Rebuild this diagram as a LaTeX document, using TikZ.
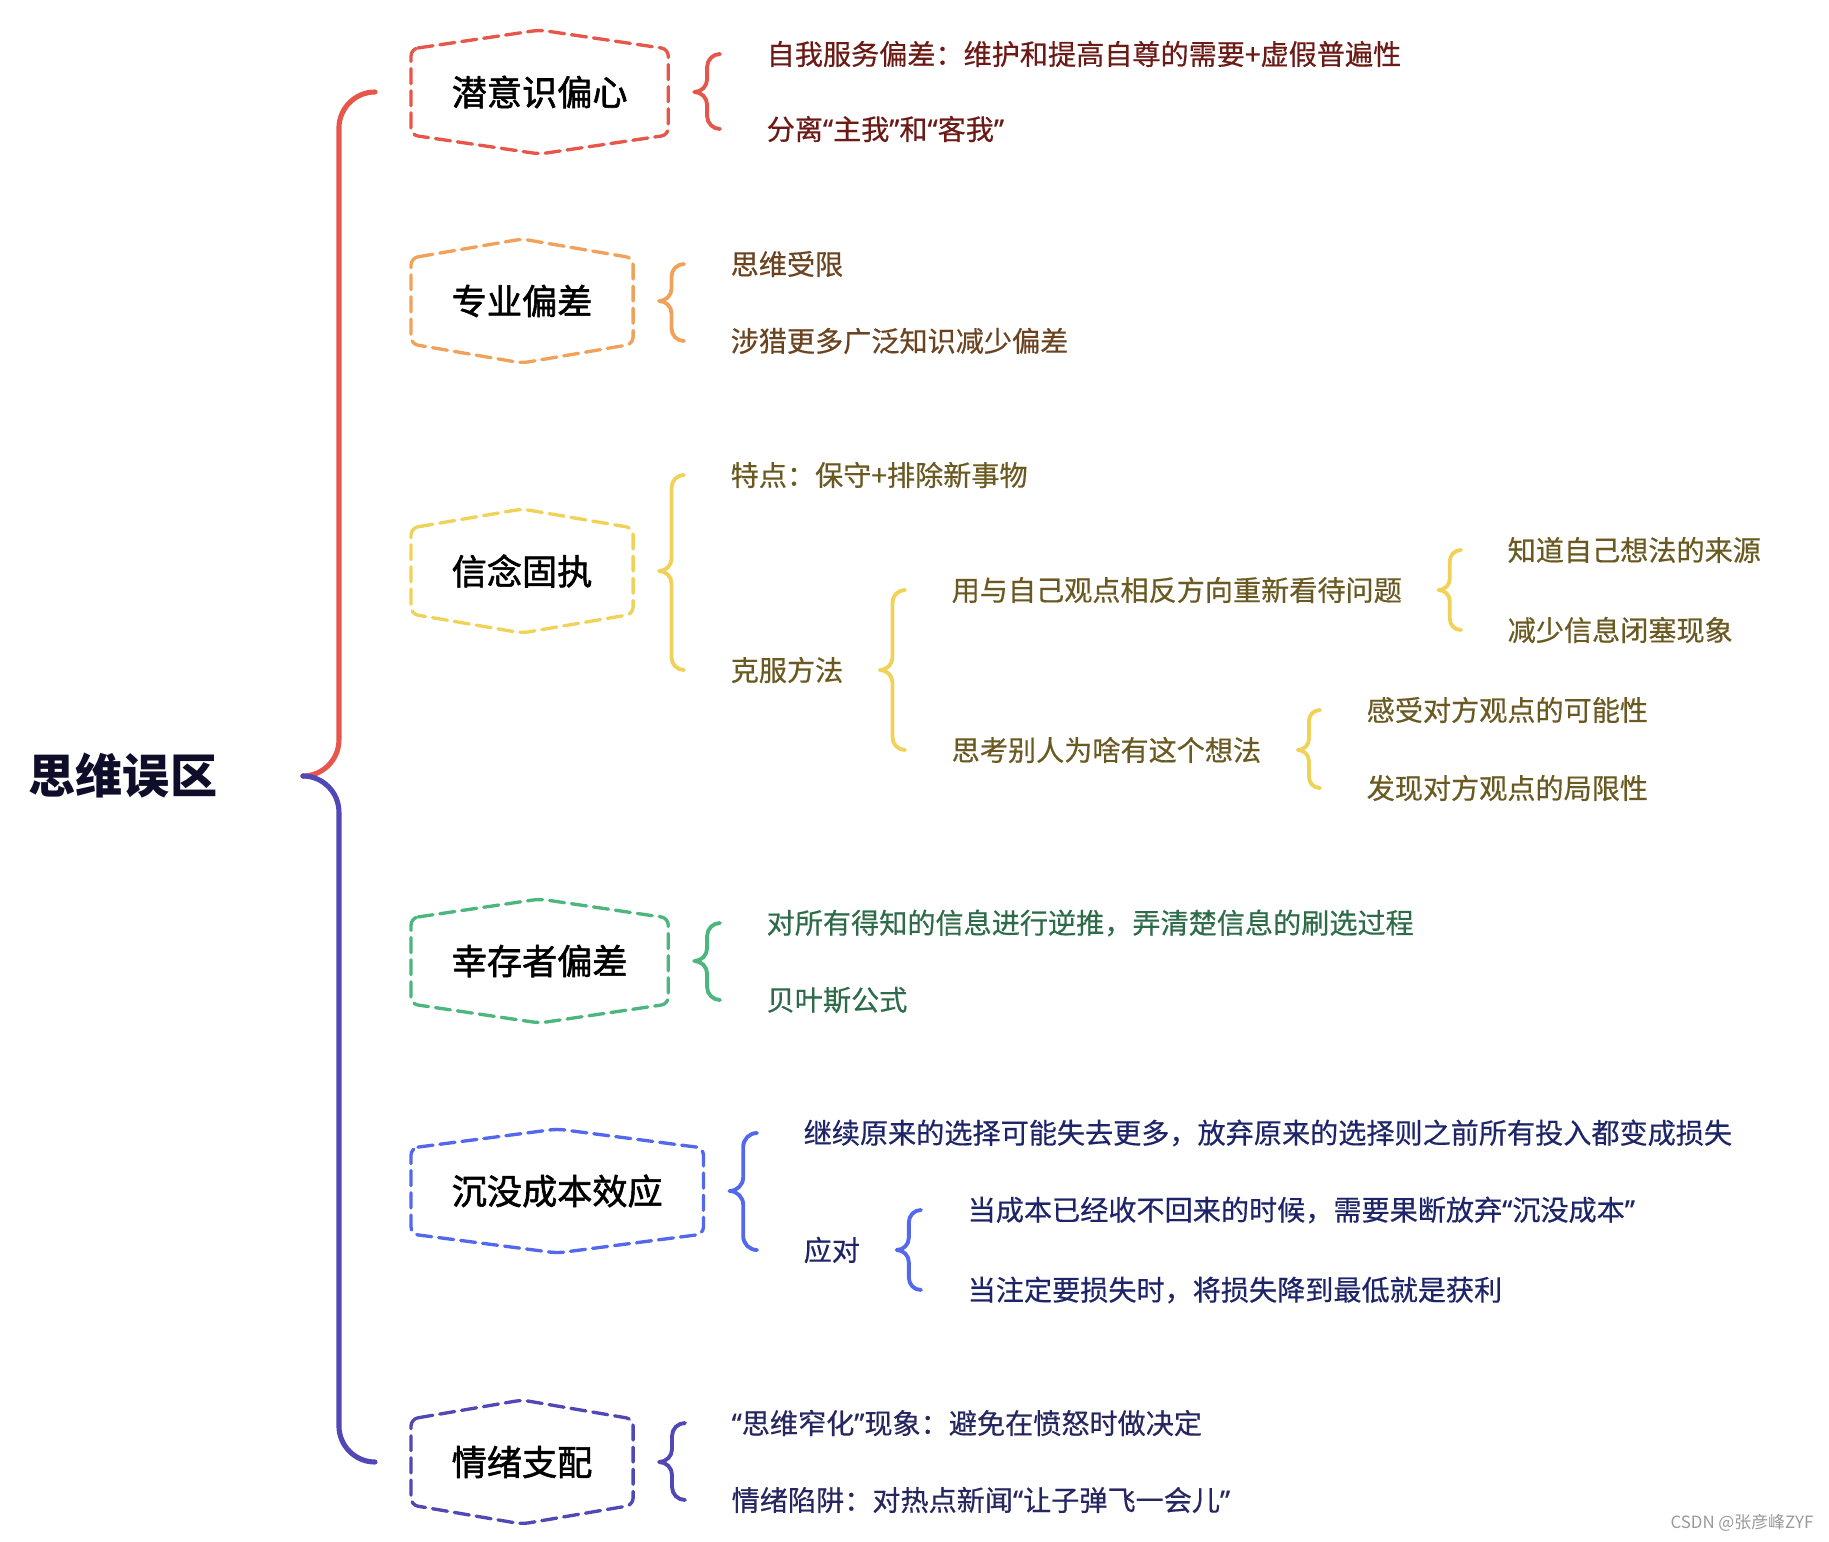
\documentclass[tikz,border=0pt]{standalone}
\usepackage{fontspec}
\setmainfont{Noto Sans CJK SC}
\newfontfamily\leaffont{Noto Sans CJK SC}[FakeBold=0.5]
\newfontfamily\topicfont{Noto Sans CJK SC}[FakeBold=1.6]
\newfontfamily\quotefont{Noto Sans}[FakeBold=0.5]
\newcommand\openq{{\quotefont “}}
\newcommand\closeq{{\quotefont ”}}
\usetikzlibrary{calc}

\definecolor{lred}{HTML}{E6564A}
\definecolor{lorange}{HTML}{F0A25A}
\definecolor{lyellow}{HTML}{F0D258}
\definecolor{lgreen}{HTML}{4DB67E}
\definecolor{lblue}{HTML}{5468EE}
\definecolor{lpurple}{HTML}{5048B4}
\definecolor{inkred}{HTML}{6B1A16}
\definecolor{inkbrown}{HTML}{6B4320}
\definecolor{inkolive}{HTML}{6A5A22}
\definecolor{inkgreen}{HTML}{2E6B48}
\definecolor{inkblue}{HTML}{1E2468}
\definecolor{inkpurple}{HTML}{262660}
\definecolor{inkroot}{HTML}{0E0E2A}

\begin{document}
\begin{tikzpicture}[
  x=0.01cm, y=-0.01cm,
  line join=round, line cap=round,
  root/.style={anchor=west, inner sep=0pt, text=inkroot,
    font=\fontsize{13.4pt}{16pt}\selectfont\bfseries},
  topic/.style={anchor=west, inner xsep=0.4cm, inner ysep=0pt, text=black,
    font=\topicfont\fontsize{10pt}{12pt}\selectfont},
  leaf/.style={anchor=west, inner xsep=0.1cm, inner ysep=0pt,
    font=\leaffont\fontsize{8pt}{10pt}\selectfont},
  hexline/.style={line width=0.95pt, dash pattern=on 4.3pt off 2pt, rounded corners=2pt},
  trunk/.style={line width=1.45pt},
  twig/.style={line width=1.1pt},
  halfbrace/.style={to path={
    let \p1=($(\tikztostart.east)+(#1,0)$), \p2=($(\tikztotarget.west)+(-36,0)$),
        \n1={(\x2-\x1)/2}, \n2={(\x2-\x1)/2*(\y2-\y1)/abs(\y2-\y1)} in
    (\p1) .. controls +({0.55*\n1*1pt},0) and +(0,{-0.55*\n2*1pt}) .. ({\x1+\n1*1pt},{\y1+\n2*1pt})
    -- ({\x1+\n1*1pt},{\y2-\n2*1pt})
    .. controls +(0,{0.55*\n2*1pt}) and +({-0.55*\n1*1pt},0) .. (\p2)}},
  halfbrace/.default=26,
]
\useasboundingbox (0,0) rectangle (1829,1542);

% ── root and the six topics ───────────────────────────────────────────────
\node[root] (root) at (28,776) {思维误区};

\node[topic] (hex1) at (411,92)   {潜意识偏心};
\node[topic] (hex2) at (411,301)  {专业偏差};
\node[topic] (hex3) at (411,571)  {信念固执};
\node[topic] (hex4) at (411,961)  {幸存者偏差};
\node[topic] (hex5) at (411,1191) {沉没成本效应};
\node[topic] (hex6) at (411,1462) {情绪支配};

\foreach \h/\c in {hex1/lred, hex2/lorange, hex3/lyellow, hex4/lgreen, hex5/lblue, hex6/lpurple}
  \draw[hexline, draw=\c] ($(\h.west)+(0,-43)$) -- ($(\h.center)+(0,-62)$) -- ($(\h.east)+(0,-43)$)
    -- ($(\h.east)+(0,43)$) -- ($(\h.center)+(0,62)$) -- ($(\h.west)+(0,43)$) -- cycle;

% ── the leaves ───────────────────────────────────────────────────────────
\begin{scope}[every node/.style={leaf, text=inkred}]
  \node (a1) at (756,54)  {自我服务偏差：维护和提高自尊的需要+虚假普遍性};
  \node (a2) at (756,129) {分离\openq 主我\closeq 和\openq 客我\closeq};
\end{scope}

\begin{scope}[every node/.style={leaf, text=inkbrown}]
  \node (b1) at (720,264) {思维受限};
  \node (b2) at (720,341) {涉猎更多广泛知识减少偏差};
\end{scope}

\begin{scope}[every node/.style={leaf, text=inkolive}]
  \node (c1) at (720,475)  {特点：保守+排除新事物};
  \node (c2) at (720,670)  {克服方法};
  \node (d1) at (941,590)  {用与自己观点相反方向重新看待问题};
  \node (d2) at (941,750)  {思考别人为啥有这个想法};
  \node (e1) at (1497,550) {知道自己想法的来源};
  \node (e2) at (1497,630) {减少信息闭塞现象};
  \node (f1) at (1356,710) {感受对方观点的可能性};
  \node (f2) at (1356,788) {发现对方观点的局限性};
\end{scope}

\begin{scope}[every node/.style={leaf, text=inkgreen}]
  \node (g1) at (756,923)  {对所有得知的信息进行逆推，弄清楚信息的刷选过程};
  \node (g2) at (756,1000) {贝叶斯公式};
\end{scope}

\begin{scope}[every node/.style={leaf, text=inkblue}]
  \node (h1) at (793,1133) {继续原来的选择可能失去更多，放弃原来的选择则之前所有投入都变成损失};
  \node (h2) at (793,1250) {应对};
  \node (i1) at (957,1210) {当成本已经收不回来的时候，需要果断放弃\openq 沉没成本\closeq};
  \node (i2) at (957,1290) {当注定要损失时，将损失降到最低就是获利};
\end{scope}

\begin{scope}[every node/.style={leaf, text=inkpurple}]
  \node (j1) at (721,1423) {\openq 思维窄化\closeq 现象：避免在愤怒时做决定};
  \node (j2) at (721,1500) {情绪陷阱：对热点新闻\openq 让子弹飞一会儿\closeq};
\end{scope}

% ── braces ───────────────────────────────────────────────────────────────
\draw[trunk, lred]    (root) to[halfbrace=85] (hex1);
\draw[trunk, lpurple] (root) to[halfbrace=85] (hex6);

\draw[twig, lred]     (hex1) to[halfbrace] (a1) (hex1) to[halfbrace] (a2);
\draw[twig, lorange]  (hex2) to[halfbrace] (b1) (hex2) to[halfbrace] (b2);
\draw[twig, lyellow]  (hex3) to[halfbrace] (c1) (hex3) to[halfbrace] (c2);
\draw[twig, lyellow]  (c2) to[halfbrace] (d1) (c2) to[halfbrace] (d2);
\draw[twig, lyellow]  (d1) to[halfbrace] (e1) (d1) to[halfbrace] (e2);
\draw[twig, lyellow]  (d2) to[halfbrace] (f1) (d2) to[halfbrace] (f2);
\draw[twig, lgreen]   (hex4) to[halfbrace] (g1) (hex4) to[halfbrace] (g2);
\draw[twig, lblue]    (hex5) to[halfbrace] (h1) (hex5) to[halfbrace] (h2);
\draw[twig, lblue]    (h2) to[halfbrace] (i1) (h2) to[halfbrace] (i2);
\draw[twig, lpurple]  (hex6) to[halfbrace] (j1) (hex6) to[halfbrace] (j2);

\node[anchor=east, inner sep=0pt, text=black!40, font=\fontsize{4.8pt}{6pt}\selectfont]
  (mark) at (1814,1523) {CSDN @张彦峰ZYF};
\end{tikzpicture}
\end{document}
